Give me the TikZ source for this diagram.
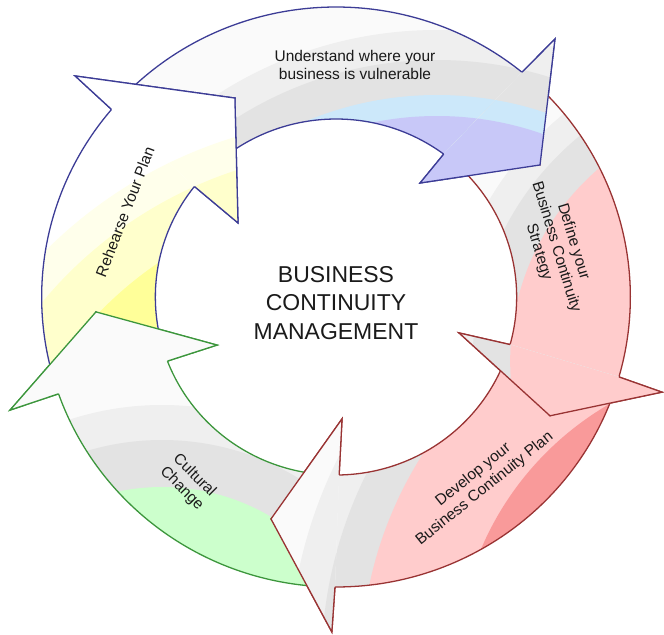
\documentclass[tikz,border=0pt]{standalone}
\usepackage{fontspec}
\setmainfont{Liberation Sans}

% outline colours
\definecolor{bluedge}{HTML}{3C3C96}
\definecolor{rededge}{HTML}{993333}
\definecolor{greenedge}{HTML}{3C963C}
% band colours
\definecolor{bandwhite}{HTML}{FAFAFA}
\definecolor{bandlight}{HTML}{EFEFEF}
\definecolor{bandgrey}{HTML}{E3E3E3}
\definecolor{skyband}{HTML}{CCE8FA}
\definecolor{lavband}{HTML}{C8C8F8}
\definecolor{pinkband}{HTML}{FFCCCC}
\definecolor{roseband}{HTML}{F99A9A}
\definecolor{greenband}{HTML}{CCFFCC}
\definecolor{yellowband}{HTML}{FFFF99}
\definecolor{creamband}{HTML}{FFFFCC}
\definecolor{ivoryband}{HTML}{FFFFEB}
\definecolor{labeltext}{HTML}{1A1A1A}

% ---- arrow outlines (polar, around the ring centre) ----
% Understand (top)
\newcommand\pathUnderstand{(137:290) arc[start angle=137, end angle=50.8, radius=290]
  -- (50.1:336.3) -- (33.3:240.5) -- (54.0:140.9) -- (53.4:178)
  arc[start angle=53.4, end angle=137, radius=178] -- (116.6:222.5) -- cycle}
\newcommand\headUnderstand{(50.8:290) -- (50.1:336.3) -- (33.3:240.5) -- (54.0:140.9) -- (53.4:178)}
% Define (right)
\newcommand\pathDefine{(48:290) arc[start angle=48, end angle=-16, radius=290]
  -- (-16.5:335) -- (-29.4:242) -- (-16.5:126.4) -- (-15.5:178)
  arc[start angle=-15.5, end angle=48, radius=178] -- (33.3:240.5) -- cycle}
\newcommand\headDefine{(-16:290) -- (-16.5:335) -- (-29.4:242) -- (-16.5:126.4) -- (-15.5:178)}
% Develop (bottom right)
\newcommand\pathDevelop{(-19:290) arc[start angle=-19, end angle=-90.2, radius=290]
  -- (-90.7:335) -- (-106.1:231) -- (-87.2:122) -- (-89:178)
  arc[start angle=-89, end angle=-19, radius=178] -- (-29.4:242) -- cycle}
\newcommand\headDevelop{(-90.2:290) -- (-90.7:335) -- (-106.1:231) -- (-87.2:122) -- (-89:178)}
% Cultural change (bottom left)
\newcommand\pathCulture{(-93:290) arc[start angle=-93, end angle=-160.5, radius=290]
  -- (-160.6:340.5) -- (-176.4:237) -- (-157.7:126.7) -- (-158.9:178)
  arc[start angle=-158.9, end angle=-93, radius=178] -- (-106.1:231) -- cycle}
\newcommand\headCulture{(-160.5:290) -- (-160.6:340.5) -- (-176.4:237) -- (-157.7:126.7) -- (-158.9:178)}
% Rehearse (left)
\newcommand\pathRehearse{(198:290) arc[start angle=198, end angle=139.7, radius=290]
  -- (139.3:339) -- (116.6:222.5) -- (142.5:121.7) -- (141.6:178)
  arc[start angle=141.6, end angle=198, radius=178] -- (183.6:237) -- cycle}
\newcommand\headRehearse{(139.7:290) -- (139.3:339) -- (116.6:222.5) -- (142.5:121.7) -- (141.6:178)}

% ---- colour bands of each arrow ----
\newcommand\bandsUnderstand{%
  \fill[bandwhite] (-400,-400) rectangle (400,400);
  \fill[bandlight] (99.5,-128) circle[radius=395];
  \fill[bandgrey] (99.5,-128) circle[radius=365];
  \fill[skyband] (99.5,-128) circle[radius=330];
  \fill[lavband] (99.5,-128) circle[radius=309];}
\newcommand\bandsDefine{%
  \fill[bandwhite] (-400,-400) rectangle (400,400);
  \fill[bandlight] (427.6,-64) circle[radius=320];
  \fill[bandgrey] (427.6,-64) circle[radius=293];
  \fill[pinkband] (427.6,-64) circle[radius=256];}
\newcommand\bandsDevelop{%
  \fill[bandwhite] (-400,-400) rectangle (400,400);
  \fill[bandlight] (423.6,-369) circle[radius=470];
  \fill[bandgrey] (423.6,-369) circle[radius=438];
  \fill[pinkband] (423.6,-369) circle[radius=399];
  \fill[roseband] (423.6,-369) circle[radius=304];}
\newcommand\bandsCulture{%
  \fill[bandwhite] (-400,-400) rectangle (400,400);
  \fill[bandlight] (-171.4,-398) circle[radius=290];
  \fill[bandgrey] (-171.4,-398) circle[radius=255];
  \fill[greenband] (-171.4,-398) circle[radius=208];}
\newcommand\bandsRehearse{%
  \fill[white] (-400,-400) rectangle (400,400);
  \fill[ivoryband] (33.5,-269) circle[radius=449];
  \fill[creamband] (33.5,-269) circle[radius=417];
  \fill[yellowband] (33.5,-269) circle[radius=368];}

\begin{document}
\begin{tikzpicture}[x=0.03cm, y=0.03cm,
    outline/.style={line width=1.1pt, line join=miter},
    stagelabel/.style={text=labeltext, align=center,
      font=\fontsize{13.2}{15.4}\selectfont, inner sep=0pt},
    centretitle/.style={text=labeltext, align=center,
      font=\fontsize{19.6}{24.2}\selectfont, inner sep=0pt}]

\fill[white] (0,0) rectangle (664,-634);
\useasboundingbox (0,0) rectangle (664,-634);

\begin{scope}[shift={(336,-297)}, xscale=1.015]
  % first pass: whole arrows
  \begin{scope}\clip \pathUnderstand; \bandsUnderstand \end{scope}
  \draw[outline, bluedge] \pathUnderstand;
  \begin{scope}\clip \pathDefine; \bandsDefine \end{scope}
  \draw[outline, rededge] \pathDefine;
  \begin{scope}\clip \pathDevelop; \bandsDevelop \end{scope}
  \draw[outline, rededge] \pathDevelop;
  \begin{scope}\clip \pathCulture; \bandsCulture \end{scope}
  \draw[outline, greenedge] \pathCulture;
  \begin{scope}\clip \pathRehearse; \bandsRehearse \end{scope}
  \draw[outline, bluedge] \pathRehearse;
  % second pass: heads lie over the notched tail of the next arrow
  \begin{scope}\clip \headUnderstand -- cycle; \bandsUnderstand \end{scope}
  \draw[outline, bluedge] \headUnderstand;
  \begin{scope}\clip \headDefine -- cycle; \bandsDefine \end{scope}
  \draw[outline, rededge] \headDefine;
  \begin{scope}\clip \headDevelop -- cycle; \bandsDevelop \end{scope}
  \draw[outline, rededge] \headDevelop;
  \begin{scope}\clip \headCulture -- cycle; \bandsCulture \end{scope}
  \draw[outline, greenedge] \headCulture;
  \begin{scope}\clip \headRehearse -- cycle; \bandsRehearse \end{scope}
  \draw[outline, bluedge] \headRehearse;
\end{scope}

% labels
\node[centretitle] (title) at (336,-303) {BUSINESS\\CONTINUITY\\MANAGEMENT};
\node[stagelabel] (understand) at (355,-65) {Understand where your\\business is vulnerable};
\node[stagelabel, rotate=-73] (define) at (556,-247) {Define your\\Business Continuity\\Strategy};
\node[stagelabel, rotate=38.8] (develop) at (479,-482) {Develop your\\Business Continuity Plan};
\node[stagelabel, rotate=-45] (culture) at (188,-482) {Cultural\\Change};
\node[stagelabel, rotate=69] (rehearse) at (125,-212) {Rehearse Your Plan};
\end{tikzpicture}
\end{document}
